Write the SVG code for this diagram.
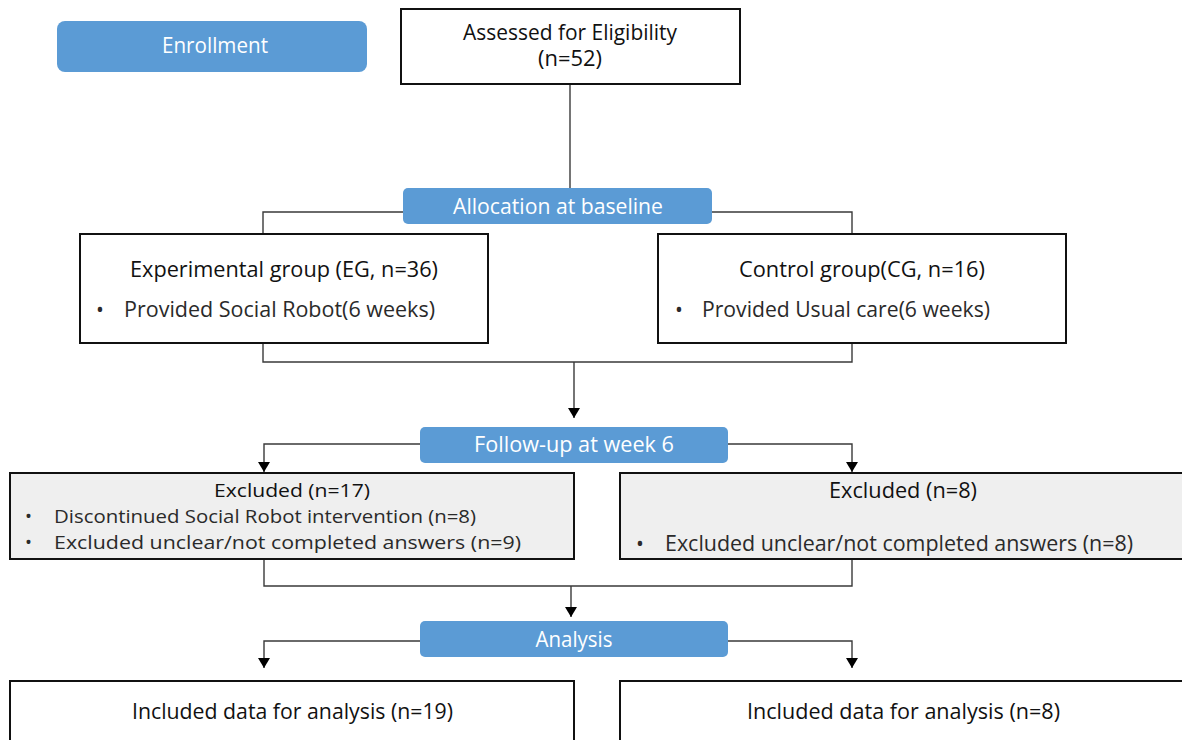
<svg xmlns="http://www.w3.org/2000/svg" width="1182" height="740" viewBox="0 0 1182 740">
<style>
.bg{fill:#ffffff}
.stage{fill:#5B9BD5;stroke:none}
.stxt{font-family:"Segoe UI","Open Sans","Noto Sans",sans-serif;font-size:21px;fill:#ffffff;text-anchor:middle}
.box{fill:#ffffff;stroke:#111111;stroke-width:2}
.gbox{fill:#efefef;stroke:#111111;stroke-width:2}
.t{font-family:"Segoe UI","Open Sans","Noto Sans",sans-serif;font-size:21px;fill:#111111}
.tc{text-anchor:middle}
.b{font-family:"Segoe UI","Open Sans","Noto Sans",sans-serif;font-size:21px;fill:#2a2a2a}
.sm{font-size:18.5px}
.line{fill:none;stroke:#3a3a3a;stroke-width:1.4}
</style>
<defs>
<marker id="arr" viewBox="0 0 10 12" refX="10" refY="6" markerWidth="10" markerHeight="12" markerUnits="userSpaceOnUse" orient="auto">
<path d="M0,0 L10,6 L0,12 Z" fill="#000000"/>
</marker>
</defs>
<rect class="bg" x="0" y="0" width="1182" height="740"/>

<g id="connectors">
<line class="line" x1="570" y1="84" x2="570" y2="189"/>
<polyline class="line" points="404,212 263,212 263,234"/>
<polyline class="line" points="711,212 852,212 852,234"/>
<polyline class="line" points="263,343 263,362 852,362 852,343"/>
<line class="line" x1="574" y1="362" x2="574" y2="418" marker-end="url(#arr)"/>
<polyline class="line" points="420,444 264,444 264,472" marker-end="url(#arr)"/>
<polyline class="line" points="728,444 852,444 852,472" marker-end="url(#arr)"/>
<polyline class="line" points="264,559 264,586 852,586 852,559"/>
<line class="line" x1="571" y1="586" x2="571" y2="617" marker-end="url(#arr)"/>
<polyline class="line" points="420,641 264,641 264,668" marker-end="url(#arr)"/>
<polyline class="line" points="728,641 852,641 852,668" marker-end="url(#arr)"/>
</g>

<g id="enrollment">
<rect class="stage" x="57" y="21" width="310" height="51" rx="8"/>
<text class="stxt" x="215" y="53" textLength="106" lengthAdjust="spacingAndGlyphs">Enrollment</text>
</g>

<g id="assessed">
<rect class="box" x="401" y="9" width="339" height="75"/>
<text class="t tc" x="570" y="40" textLength="214" lengthAdjust="spacingAndGlyphs">Assessed for Eligibility</text>
<text class="t tc" x="570" y="66" textLength="64" lengthAdjust="spacingAndGlyphs">(n=52)</text>
</g>

<g id="allocation">
<rect class="stage" x="403" y="188" width="309" height="36" rx="5"/>
<text class="stxt" x="558" y="214" textLength="210" lengthAdjust="spacingAndGlyphs">Allocation at baseline</text>
</g>

<g id="eg">
<rect class="box" x="80" y="234" width="408" height="109"/>
<text class="t" x="130" y="277" textLength="308" lengthAdjust="spacingAndGlyphs">Experimental group (EG, n=36)</text>
<text class="b" x="96" y="317">•</text>
<text class="b" x="124" y="317" textLength="311" lengthAdjust="spacingAndGlyphs">Provided Social Robot(6 weeks)</text>
</g>

<g id="cg">
<rect class="box" x="658" y="234" width="408" height="109"/>
<text class="t" x="739" y="277" textLength="246" lengthAdjust="spacingAndGlyphs">Control group(CG, n=16)</text>
<text class="b" x="675" y="317">•</text>
<text class="b" x="702" y="317" textLength="288" lengthAdjust="spacingAndGlyphs">Provided Usual care(6 weeks)</text>
</g>

<g id="followup">
<rect class="stage" x="420" y="427" width="308" height="36" rx="5"/>
<text class="stxt" x="574" y="452" textLength="200" lengthAdjust="spacingAndGlyphs">Follow-up at week 6</text>
</g>

<g id="excluded-eg">
<rect class="gbox" x="10" y="473" width="564" height="86"/>
<text class="t sm" x="214" y="497" textLength="156" lengthAdjust="spacingAndGlyphs">Excluded (n=17)</text>
<text class="b sm" x="25" y="523">•</text>
<text class="b sm" x="54" y="523" textLength="422" lengthAdjust="spacingAndGlyphs">Discontinued Social Robot intervention (n=8)</text>
<text class="b sm" x="25" y="549">•</text>
<text class="b sm" x="54" y="549" textLength="467" lengthAdjust="spacingAndGlyphs">Excluded unclear/not completed answers (n=9)</text>
</g>

<g id="excluded-cg">
<rect class="gbox" x="620" y="473" width="580" height="86"/>
<text class="t" x="829" y="498" textLength="148" lengthAdjust="spacingAndGlyphs">Excluded (n=8)</text>
<text class="b" x="636" y="551">•</text>
<text class="b" x="665" y="551" textLength="468" lengthAdjust="spacingAndGlyphs">Excluded unclear/not completed answers (n=8)</text>
</g>

<g id="analysis">
<rect class="stage" x="420" y="621" width="308" height="36" rx="5"/>
<text class="stxt" x="574" y="647" textLength="77" lengthAdjust="spacingAndGlyphs">Analysis</text>
</g>

<g id="included-eg">
<rect class="box" x="10" y="681" width="564" height="80"/>
<text class="t" x="132" y="719" textLength="321" lengthAdjust="spacingAndGlyphs">Included data for analysis (n=19)</text>
</g>

<g id="included-cg">
<rect class="box" x="620" y="681" width="580" height="80"/>
<text class="t" x="747" y="719" textLength="313" lengthAdjust="spacingAndGlyphs">Included data for analysis (n=8)</text>
</g>
</svg>
